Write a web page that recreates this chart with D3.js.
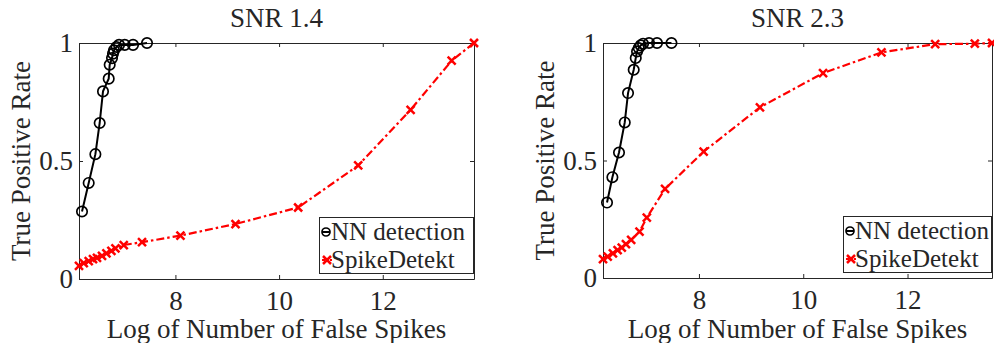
<!DOCTYPE html>
<html>
<head>
<meta charset="utf-8">
<script src="https://cdn.jsdelivr.net/npm/d3@7"></script>
<style>
  body { margin: 0; background: #fff; }
  .axis path, .axis line { stroke: #262626; }
</style>
</head>
<body>
<div id="chart"></div>
<script>
// values
let titles = ['SNR 1.4', 'SNR 2.3'];
let legendLabels = ['NN detection', 'SpikeDetekt'];
let xTickValues = [8, 10, 12];
let yTickValues = [0, 0.5, 1];
let yTickLabels = ['0', '0.5', '1'];

let nnX14 = [6.198, 6.327, 6.456, 6.539, 6.603, 6.713, 6.732, 6.777, 6.796, 6.815, 6.862, 6.912, 7.022, 7.182, 7.452];
let nnY14 = [0.286, 0.407, 0.529, 0.661, 0.795, 0.849, 0.908, 0.936, 0.955, 0.969, 0.983, 0.992, 0.992, 0.992, 1.0];
let sdX14 = [6.14, 6.231, 6.327, 6.410, 6.487, 6.584, 6.669, 6.765, 6.843, 7.003, 7.356, 8.097, 9.159, 10.368, 11.526, 12.537, 13.329, 13.76];
let sdY14 = [0.056, 0.067, 0.076, 0.084, 0.090, 0.098, 0.109, 0.119, 0.130, 0.144, 0.156, 0.184, 0.233, 0.303, 0.481, 0.717, 0.925, 1.0];

let nnX23 = [6.237, 6.340, 6.467, 6.577, 6.640, 6.749, 6.788, 6.813, 6.845, 6.884, 6.928, 7.043, 7.196, 7.473];
let nnY23 = [0.321, 0.429, 0.534, 0.662, 0.787, 0.886, 0.936, 0.964, 0.979, 0.990, 0.997, 1.0, 1.0, 1.0];
let sdX23 = [6.16, 6.25, 6.35, 6.44, 6.52, 6.60, 6.70, 6.86, 7.00, 7.35, 8.09, 9.17, 10.38, 11.50, 12.53, 13.29, 13.62];
let sdY23 = [0.080, 0.091, 0.105, 0.119, 0.129, 0.144, 0.162, 0.197, 0.257, 0.379, 0.538, 0.726, 0.872, 0.960, 0.995, 0.997, 1.0];

let panels = [
  {title: titles[0], nnX: nnX14, nnY: nnY14, sdX: sdX14, sdY: sdY14,
   left: 79, right: 474, top: 43, bottom: 279, legend: [319, 217, 154, 56]},
  {title: titles[1], nnX: nnX23, nnY: nnY23, sdX: sdX23, sdY: sdY23,
   left: 603, right: 992, top: 43, bottom: 278, legend: [843, 216, 148, 56]}
];

let fontSize = 27;
let legendFontSize = 25;
let fontFamily = "'Liberation Serif', 'DejaVu Serif', serif";

let svg = d3.select('#chart')
  .append('svg')
  .attr('width', 994)
  .attr('height', 343)
  .style('font-family', fontFamily);

let xMarker = (g, cx, cy) => {
  let s = 4;
  g.append('path')
    .attr('d', `M${cx - s},${cy - s}L${cx + s},${cy + s}M${cx - s},${cy + s}L${cx + s},${cy - s}`)
    .attr('stroke', '#ff0000')
    .attr('stroke-width', 2.5)
    .attr('fill', 'none');
};

let addText = (sel, size) => sel
  .style('font-family', fontFamily)
  .attr('font-size', size || fontSize)
  .attr('fill', '#262626');

panels.forEach(p => {
  let xScale = d3.scaleLinear()
    .domain(d3.extent(p.sdX))
    .range([p.left, p.right]);
  let yScale = d3.scaleLinear()
    .domain([0, 1])
    .range([p.bottom, p.top]);

  // box axes, ticks pointing inward
  svg.append('g')
    .attr('class', 'axis')
    .attr('transform', 'translate(0,' + p.bottom + ')')
    .call(d3.axisBottom(xScale).tickValues(xTickValues).tickSize(-4).tickSizeOuter(0).tickPadding(12))
    .call(g => addText(g.selectAll('text')));
  svg.append('g')
    .attr('class', 'axis')
    .attr('transform', 'translate(0,' + p.top + ')')
    .call(d3.axisTop(xScale).tickValues(xTickValues).tickSize(-4).tickSizeOuter(0).tickFormat(''));
  svg.append('g')
    .attr('class', 'axis')
    .attr('transform', 'translate(' + p.left + ',0)')
    .call(d3.axisLeft(yScale).tickValues(yTickValues).tickSize(-4).tickSizeOuter(0).tickPadding(6)
      .tickFormat((d, i) => yTickLabels[i]))
    .call(g => addText(g.selectAll('text')));
  svg.append('g')
    .attr('class', 'axis')
    .attr('transform', 'translate(' + p.right + ',0)')
    .call(d3.axisRight(yScale).tickValues(yTickValues).tickSize(-4).tickSizeOuter(0).tickFormat(''));

  svg.append('text')
    .attr('text-anchor', 'middle')
    .attr('x', (p.left + p.right) / 2)
    .attr('y', 27)
    .call(addText)
    .text(p.title);

  svg.append('text')
    .attr('text-anchor', 'middle')
    .attr('x', (p.left + p.right) / 2)
    .attr('y', 338)
    .call(addText)
    .text('Log of Number of False Spikes');

  svg.append('text')
    .attr('text-anchor', 'middle')
    .attr('transform', 'translate(' + (p.left - 49) + ',' + ((p.top + p.bottom) / 2) + ') rotate(-90)')
    .call(addText)
    .text('True Positive Rate');

  // SpikeDetekt line
  let sdData = p.sdX.map((d, i) => [d, p.sdY[i]]);
  let line = d3.line().x(d => xScale(d[0])).y(d => yScale(d[1]));
  svg.append('path')
    .datum(sdData)
    .attr('d', line)
    .attr('fill', 'none')
    .attr('stroke', '#ff0000')
    .attr('stroke-width', 2.2)
    .attr('stroke-dasharray', '8,3,2.5,3');
  let sdG = svg.append('g');
  sdData.forEach(d => xMarker(sdG, xScale(d[0]), yScale(d[1])));

  // NN detection line
  let nnData = p.nnX.map((d, i) => [d, p.nnY[i]]);
  svg.append('path')
    .datum(nnData)
    .attr('d', line)
    .attr('fill', 'none')
    .attr('stroke', '#000')
    .attr('stroke-width', 2);
  svg.append('g')
    .selectAll('circle')
    .data(nnData)
    .enter()
    .append('circle')
    .attr('cx', d => xScale(d[0]))
    .attr('cy', d => yScale(d[1]))
    .attr('r', 5.2)
    .attr('fill', 'none')
    .attr('stroke', '#000')
    .attr('stroke-width', 1.7);

  // legend
  let [lx, ly, lw, lh] = p.legend;
  let lg = svg.append('g');
  lg.append('rect')
    .attr('x', lx + 0.5)
    .attr('y', ly + 0.5)
    .attr('width', lw)
    .attr('height', lh)
    .attr('fill', '#fff')
    .attr('stroke', '#262626')
    .attr('stroke-width', 1);
  let row1 = ly + 15;
  let row2 = ly + 43;
  lg.append('line')
    .attr('x1', lx + 3).attr('x2', lx + 11)
    .attr('y1', row1).attr('y2', row1)
    .attr('stroke', '#000').attr('stroke-width', 2);
  lg.append('circle')
    .attr('cx', lx + 7).attr('cy', row1).attr('r', 4)
    .attr('fill', 'none').attr('stroke', '#000').attr('stroke-width', 1.7);
  lg.append('line')
    .attr('x1', lx + 3).attr('x2', lx + 13)
    .attr('y1', row2).attr('y2', row2)
    .attr('stroke', '#ff0000').attr('stroke-width', 2.2).attr('stroke-dasharray', '3,1');
  xMarker(lg, lx + 8, row2);
  lg.selectAll('text.leg')
    .data(legendLabels)
    .enter()
    .append('text')
    .attr('class', 'leg')
    .attr('x', lx + 12)
    .attr('y', (d, i) => (i === 0 ? row1 : row2) + 8)
    .call(addText, legendFontSize)
    .text(d => d);
});
</script>
</body>
</html>
